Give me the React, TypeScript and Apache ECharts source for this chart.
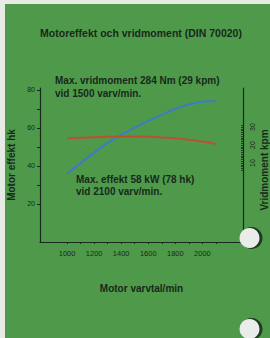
import React, { useEffect, useRef } from "react";
import * as echarts from "echarts";

const rpm = [1000, 1100, 1200, 1300, 1400, 1500, 1600, 1700, 1800, 1900, 2000, 2100];
const powerHk = [36, 41.5, 47, 52.1, 56.3, 60.2, 63.7, 66.9, 70.1, 72.3, 73.8, 74.2];
const torqueKpm = [23.7, 24.0, 24.3, 24.6, 24.8, 24.8, 24.6, 24.2, 23.7, 22.9, 21.9, 20.6];
const xLabels = [1000, 1200, 1400, 1600, 1800, 2000];
const xTicks = [1000, 1100, 1200, 1300, 1400, 1500, 1600, 1700, 1800, 1900, 2000, 2100];
const leftLabels = [20, 40, 60, 80];
const leftTicks = [20, 30, 40, 50, 60, 70, 80];
const rightLabels = [10, 20, 30];
const rightTicks = [6, 7, 8, 9, 10, 11, 12, 13, 14, 15, 16, 17, 18, 19, 20, 21, 22, 23, 24, 25, 26, 27, 28, 29, 30, 31];

const title = "Motoreffekt och vridmoment (DIN 70020)";
const note1 = ["Max. vridmoment 284 Nm (29 kpm)", "vid 1500 varv/min."];
const note2 = ["Max. effekt 58 kW (78 hk)", "vid 2100 varv/min."];
const rightName = "Vridmoment kpm";

const INK = "#17291a";
const FONT = "'Liberation Sans', Arial, sans-serif";

export default function App() {
  const ref = useRef<HTMLDivElement>(null);
  useEffect(() => {
    document.body.style.margin = "0";
    const chart = echarts.init(ref.current!, null, { renderer: "svg" });
    const axisLine = { show: true, lineStyle: { color: INK, width: 1.2 } };
    const hole = (cx: number, cy: number) => [
      { type: "circle", z: 100, shape: { cx: cx + 1.5, cy, r: 11 }, style: { fill: "#1f3a22" } },
      { type: "circle", z: 101, shape: { cx: cx - 0.5, cy, r: 10 }, style: { fill: "#e9ece8" } },
    ];
    chart.setOption({
      animation: false,
      backgroundColor: "#e6ebe4",
      textStyle: { fontFamily: FONT },
      graphic: [
        { type: "rect", z: -10, shape: { x: 5, y: 4, width: 270, height: 340 }, style: { fill: "#4f994b" } },
        {
          type: "text", z: 50, x: 141, y: 33,
          style: { text: title, fill: INK, font: `bold 10.5px ${FONT}`, align: "center", verticalAlign: "middle" },
        },
        {
          type: "text", z: 50, x: 55, y: 87,
          style: { text: note1.join("\n"), fill: INK, font: `bold 10px ${FONT}`, lineHeight: 13, verticalAlign: "middle" },
        },
        {
          type: "text", z: 50, x: 76, y: 185.5,
          style: { text: note2.join("\n"), fill: INK, font: `bold 10px ${FONT}`, lineHeight: 11.5, verticalAlign: "middle" },
        },
        {
          type: "text", z: 50, x: 264, y: 170, rotation: Math.PI / 2,
          style: { text: rightName, fill: INK, font: `bold 10px ${FONT}`, align: "center", verticalAlign: "middle" },
        },
        ...hole(250, 238),
        ...hole(250, 329),
      ],
      grid: { left: 40, right: 27, top: 88, bottom: 96, outerBoundsMode: "none", containLabel: false },
      xAxis: {
        type: "value",
        min: 800,
        max: 2300,
        name: "Motor varvtal/min",
        nameLocation: "middle",
        nameGap: 41,
        nameTextStyle: { color: INK, fontSize: 10, fontWeight: "bold", fontFamily: FONT },
        axisLine,
        splitLine: { show: false },
        axisTick: { show: true, customValues: xTicks, length: 2, lineStyle: { color: INK } },
        axisLabel: {
          customValues: xLabels, color: INK, fontSize: 7.5, margin: 7, fontFamily: FONT,
          formatter: (v: number) => String(v),
        },
      },
      yAxis: [
        {
          type: "value",
          min: 0,
          max: 81,
          name: "Motor effekt hk",
          nameLocation: "middle",
          nameGap: 19,
          nameRotate: 90,
          nameTextStyle: { color: INK, fontSize: 10, fontWeight: "bold", fontFamily: FONT },
          axisLine,
          splitLine: { show: false },
          axisTick: { show: true, customValues: leftTicks, length: 3, lineStyle: { color: INK } },
          axisLabel: { customValues: leftLabels, color: INK, fontSize: 7, margin: 5, fontFamily: FONT },
        },
        {
          type: "value",
          position: "right",
          min: -33.9,
          max: 51.7,
          axisLine,
          splitLine: { show: false },
          axisTick: { show: true, inside: true, customValues: rightTicks, length: 2, lineStyle: { color: INK, width: 0.8 } },
          axisLabel: { customValues: rightLabels, rotate: 90, color: INK, fontSize: 7, margin: 6, fontFamily: FONT },
        },
      ],
      series: [
        {
          type: "line",
          yAxisIndex: 0,
          data: rpm.map((r, i) => [r, powerHk[i]]),
          smooth: 0.3,
          showSymbol: false,
          lineStyle: { color: "#3c7cc6", width: 2 },
        },
        {
          type: "line",
          yAxisIndex: 1,
          data: rpm.map((r, i) => [r, torqueKpm[i]]),
          smooth: 0.3,
          showSymbol: false,
          lineStyle: { color: "#bb5130", width: 2 },
        },
      ],
    });
    return () => chart.dispose();
  }, []);
  return <div ref={ref} style={{ width: 270, height: 338 }} />;
}
